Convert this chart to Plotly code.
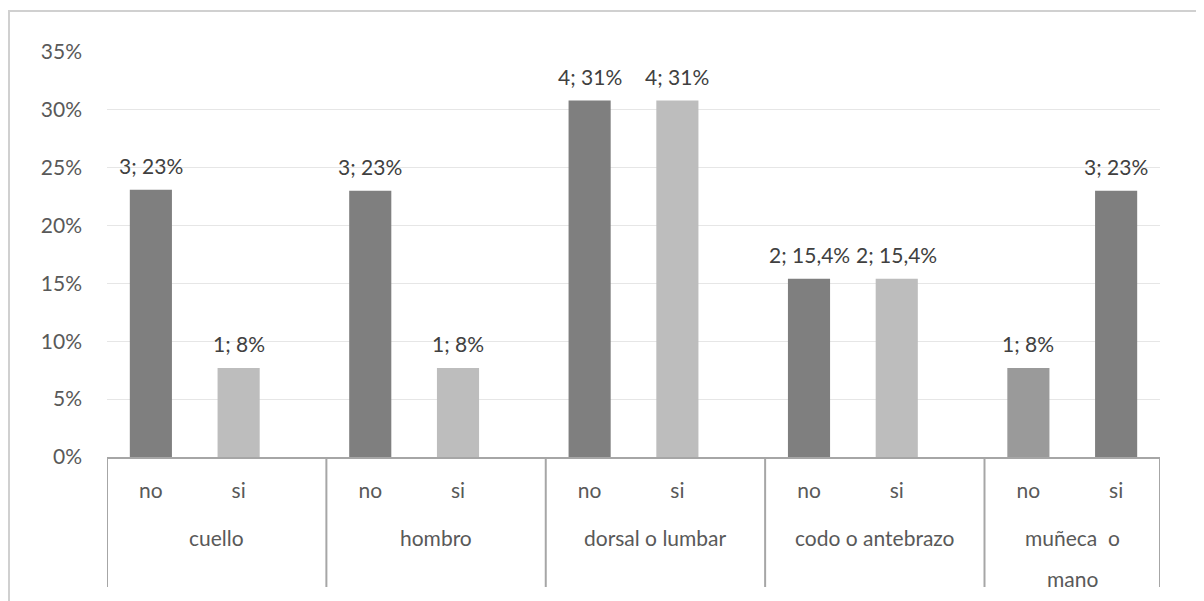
import plotly.graph_objects as go

groups = ["cuello", "hombro", "dorsal o lumbar", "codo o antebrazo", "muñeca  o<br>mano"]
answers = ["no", "si"]
counts = [3, 1, 3, 1, 4, 4, 2, 2, 1, 3]
percents = [23.1, 7.7, 23.0, 7.7, 30.8, 30.8, 15.4, 15.4, 7.7, 23.0]
pct_labels = ["23%", "8%", "23%", "8%", "31%", "31%", "15,4%", "15,4%", "8%", "23%"]
ytick_vals = [0, 5, 10, 15, 20, 25, 30, 35]
ytick_text = ["0%", "5%", "10%", "15%", "20%", "25%", "30%", "35%"]

# layout: each group takes its answers plus half a spacer slot (except the last)
GROUP_STEP = len(answers) + 0.5
xpos, inner = [], []
for g in range(len(groups)):
    for a, ans in enumerate(answers):
        xpos.append(g * GROUP_STEP + a)
        inner.append(ans)
labels = [f"{c}; {p}" for c, p in zip(counts, pct_labels)]

x_min = -0.5
x_max = (len(groups) - 1) * GROUP_STEP + len(answers) - 0.5
bounds = [g * GROUP_STEP - 0.5 for g in range(len(groups))] + [x_max]

DARK = "#7f7f7f"
LIGHT = "#bdbdbd"
MID = "#9a9a9a"
colors = [DARK, LIGHT, DARK, LIGHT, DARK, LIGHT, DARK, LIGHT, MID, DARK]

FONT = "Lato, 'Open Sans', sans-serif"
TXT = "#404040"
TICK = "#595959"
AXIS = "#a6a6a6"

# page has an 8px body margin, so the figure is sized to fill the rest
W, H = 1196, 593
ML, MR, MT, MB = 99, 44, 44, 144
PLOT_W = W - ML - MR
PLOT_H = H - MT - MB

fig = go.Figure(go.Bar(
    x=xpos,
    y=percents,
    marker=dict(color=colors, line=dict(width=0)),
    width=0.48,
    hoverinfo="y",
))

annotations = []
for x, y, t in zip(xpos, percents, labels):
    annotations.append(dict(x=x, y=y, xref="x", yref="y", text=t, showarrow=False,
                            yanchor="bottom", yshift=10,
                            font=dict(family=FONT, size=21, color=TXT)))
# outer group labels
for g, name in enumerate(groups):
    left = bounds[g]
    right = bounds[g + 1]
    for i, line in enumerate(name.split("<br>")):
        annotations.append(dict(x=(left + right) / 2, y=-80 / PLOT_H, xref="x", yref="paper",
                                text=line, showarrow=False, yanchor="middle",
                                yshift=-41 * i,
                                font=dict(family=FONT, size=21, color=TICK)))

shapes = [dict(type="rect", xref="paper", yref="paper",
               x0=-(ML - 1) / PLOT_W, x1=1.1, y0=-0.5, y1=1 + (MT - 3) / PLOT_H,
               line=dict(color="#d0d0d0", width=2), layer="below")]
for b in bounds:
    shapes.append(dict(type="line", xref="x", yref="paper", x0=b, x1=b,
                       y0=0, y1=-130 / PLOT_H, line=dict(color=AXIS, width=2)))

fig.update_layout(
    width=W, height=H,
    margin=dict(l=ML, r=MR, t=MT, b=MB),
    paper_bgcolor="white",
    plot_bgcolor="white",
    showlegend=False,
    font=dict(family=FONT, size=21, color=TICK),
    annotations=annotations,
    shapes=shapes,
)
fig.update_yaxes(
    range=[0, 35], tickvals=ytick_vals, ticktext=ytick_text,
    showgrid=True, gridcolor="#e6e6e6", gridwidth=1,
    zeroline=False, showline=False, ticks="",
    ticklabelstandoff=24, automargin=False,
    tickfont=dict(family=FONT, size=21, color=TICK),
)
fig.update_xaxes(
    range=[x_min, x_max],
    tickvals=xpos, ticktext=inner,
    showline=True, linecolor=AXIS, linewidth=2,
    showgrid=False, zeroline=False,
    ticks="", ticklabelstandoff=14, automargin=False,
    tickfont=dict(family=FONT, size=21, color=TICK),
)

fig.write_html("out.html")
